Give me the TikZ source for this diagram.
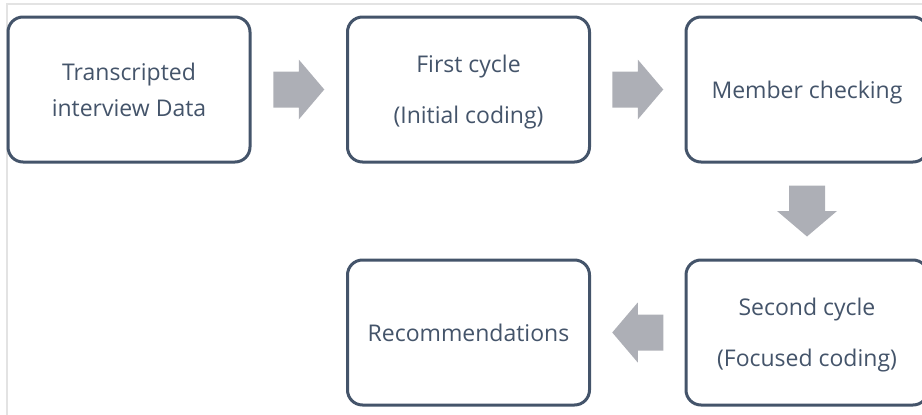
\documentclass[tikz,border=0pt]{standalone}
\usepackage{fontspec}
\setmainfont{Open Sans}
\usetikzlibrary{calc}
\definecolor{slate}{HTML}{44546A}
\definecolor{arrowgray}{HTML}{ADAFB6}
\definecolor{framegray}{HTML}{E3E3E3}
\tikzset{
  stagebox/.style={draw=slate, line width=3pt, rounded corners=15pt, fill=white,
    minimum width=242pt, minimum height=145pt, inner sep=0pt,
    text=slate, align=center, text depth=0pt, font=\fontsize{23}{51}\selectfont},
  tightlines/.style={font=\fontsize{23}{36}\selectfont},
  blockarrow/.pic={
    \fill[arrowgray] (-25.5,-18) -- (0,-18) -- (0,-30) -- (25.5,0)
      -- (0,30) -- (0,18) -- (-25.5,18) -- cycle;
  }
}
\begin{document}
\begin{tikzpicture}[x=1pt,y=-1pt]
  \useasboundingbox (0,0) rectangle (922,415);
  % thin outer frame
  \draw[framegray, line width=1.5pt] (7,415) -- (7,4) -- (922,4);

  % process stages
  \node[stagebox, tightlines] (b1) at (129,89.5) {Transcripted\\interview Data};
  \node[stagebox] (b2) at (468.5,89.5) {First cycle\\(Initial coding)};
  \node[stagebox] (b3) at (807,89.5) {Member checking};
  \node[stagebox] (b4) at (807,332.5) {Second cycle\\(Focused coding)};
  \node[stagebox] (b5) at (468.5,332.5) {Recommendations};

  % block arrows between stages
  \pic at ($(b1.east)!0.5!(b2.west)$) {blockarrow};
  \pic at ($(b2.east)!0.5!(b3.west)$) {blockarrow};
  \pic[rotate=-90] at ($(b3.south)!0.5!(b4.north)$) {blockarrow};
  \pic[rotate=180] at ($(b4.west)!0.5!(b5.east)$) {blockarrow};
\end{tikzpicture}
\end{document}
